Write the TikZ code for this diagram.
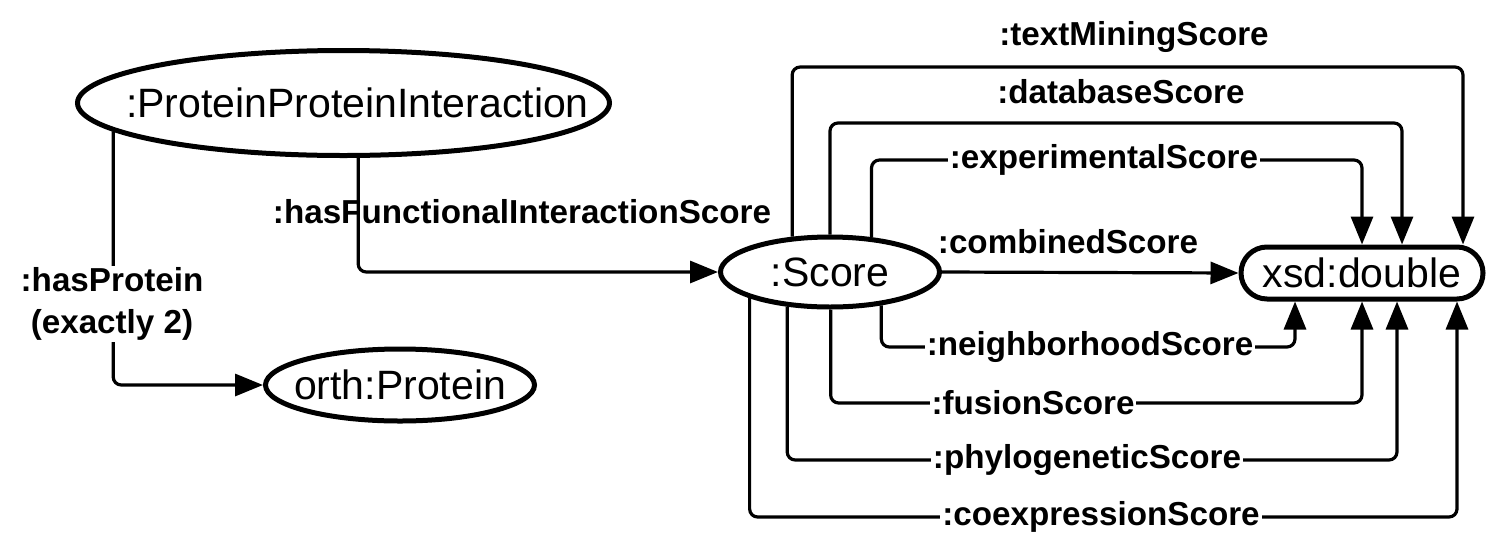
\documentclass[tikz,border=0pt]{standalone}
\usepackage{fontspec}
\setmainfont{Liberation Sans}
\usetikzlibrary{shapes.geometric,arrows.meta}

\begin{document}
\begin{tikzpicture}[x=0.5pt, y=-0.5pt,
	objtext/.style={inner sep=0pt, font=\fontsize{20.5}{24}\selectfont},
	obj/.style={ellipse, draw=black, line width=2.5pt, inner sep=0pt, label={[objtext]center:{#1}}},
	lbl/.style={inner sep=1pt, font=\fontsize{16.6}{21}\selectfont\bfseries},
	onlbl/.style={lbl, fill=white},
	conn/.style={draw=black, line width=1.6pt, rounded corners=4pt, -{Triangle[length=14pt, width=11pt]}}]
				\useasboundingbox (0,0) rectangle (1494,542);
				\node[obj={\hspace*{14pt}:ProteinProteinInteraction}, minimum width=266pt, minimum height=52.5pt] (ppi) at (343.5,103){};
				\node[obj={orth:Protein}, minimum width=134.5pt, minimum height=36pt] (orth) at (400,385){};
				\node[obj={:Score}, minimum width=109.5pt, minimum height=35pt] (score) at (830,272){};
				\node[objtext, draw=black, line width=2.5pt, rounded corners=13pt, minimum width=121pt, minimum height=26pt] (xsd) at (1362,273){xsd:double};
				
				\coordinate (tm) at (1463,67);
				\coordinate (db) at (1402,123);
				\coordinate (ex) at (1362,160);
				\coordinate (nb) at (1295,347);
				\coordinate (fu) at (1362,403);
				\coordinate (ph) at (1397,460);
				\coordinate (co) at (1457,517);
				
				\path[conn] (ppi.-173.1) |- (orth.west);
				\path[conn] (ppi.-75.2) |- (score.west);
				\path[conn] (score.east) -- (xsd.west);
				\path[conn] (score.137) |- (tm) -- (tm |- xsd.north);
				\path[conn] (score.90) |- (db) -- (db |- xsd.north);
				\path[conn] (score.40) |- (ex) -- (xsd.north);
				\path[conn] (score.-33) |- (nb) -- (nb |- xsd.south);
				\path[conn] (score.-89) |- (fu) -- (xsd.south);
				\path[conn] (score.-141.2) |- (ph) -- (ph |- xsd.south);
				\path[conn] (score.-162.7) |- (co) -- (co |- xsd.south);
				
				\node[onlbl, align=center] (hplbl) at (112,304){:hasProtein\\(exactly 2)};
				\node[lbl] (hfislbl) at (522,212){:hasFunctionalInteractionScore};
				\node[lbl] (tmlbl) at (1134,37){:textMiningScore};
				\node[lbl] (dblbl) at (1121,92){:databaseScore};
				\node[onlbl] (exlbl) at (1104,160){:experimentalScore};
				\node[lbl] (cblbl) at (1068,242){:combinedScore};
				\node[onlbl] (nblbl) at (1090,347){:neighborhoodScore};
				\node[onlbl] (fulbl) at (1033,403){:fusionScore};
				\node[onlbl] (phlbl) at (1087,460){:phylogeneticScore};
				\node[onlbl] (colbl) at (1101,517){:coexpressionScore};
				\end{tikzpicture}
\end{document}
